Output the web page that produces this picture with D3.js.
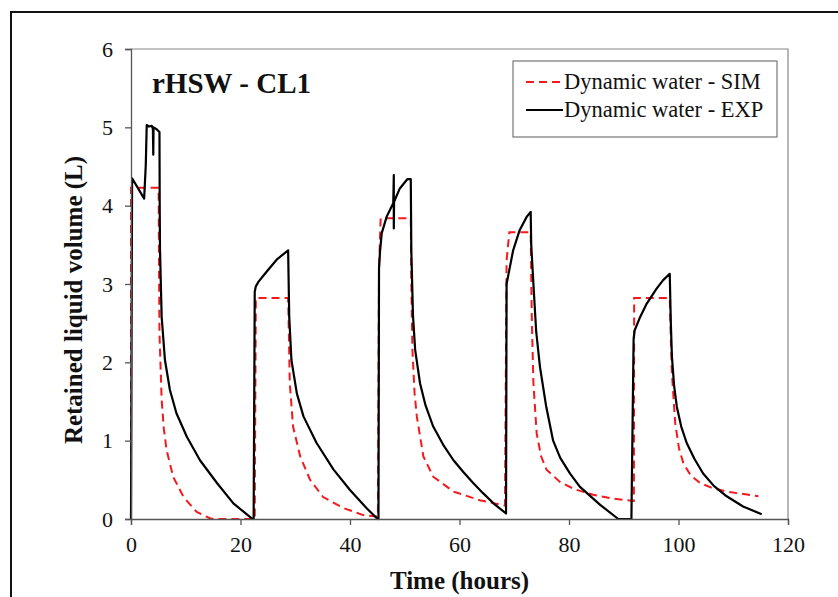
<!DOCTYPE html>
<html>
<head>
<meta charset="utf-8">
<script src="https://cdn.jsdelivr.net/npm/d3@7"></script>
<style>
  body { margin: 0; background: #fff; }
  svg text { font-family: "Liberation Serif", "Times New Roman", serif; fill: #111; }
</style>
</head>
<body>
<svg id="chart" width="838" height="597"></svg>
<script>
// Dynamic water - SIM (red dashed)
const simT = [0, 0, 5.05, 5.1, 5.2, 5.6, 6.0, 6.5, 7.7, 9.6, 12.0, 14.4, 15.0, 22.6,
  22.8, 28.7, 28.85, 29.0, 29.6, 30.9, 32.7, 35.1, 38.8, 42.4, 45.1,
  45.3, 45.6, 51.1, 51.2, 51.4, 51.8, 52.2, 53.4, 55.2, 58.9, 63.7, 68.3,
  68.6, 69.1, 73.0, 73.2, 73.5, 74.1, 74.9, 75.9, 78.4, 81.0, 84.4, 88.0, 91.85,
  91.9, 98.4, 98.6, 98.8, 99.4, 100.1, 100.9, 102.2, 103.9, 106.0, 108.8, 114.6];
const simV = [0, 4.23, 4.23, 3.43, 2.37, 1.52, 1.15, 0.88, 0.54, 0.28, 0.09, 0.01, 0, 0,
  2.82, 2.82, 2.3, 1.73, 1.18, 0.80, 0.50, 0.28, 0.14, 0.05, 0.03,
  3.2, 3.84, 3.84, 3.01, 2.16, 1.6, 1.31, 0.80, 0.54, 0.35, 0.24, 0.17,
  3.3, 3.66, 3.66, 2.58, 1.73, 1.09, 0.8, 0.63, 0.47, 0.38, 0.31, 0.26, 0.23,
  2.82, 2.82, 2.3, 1.86, 1.22, 0.9, 0.71, 0.56, 0.46, 0.4, 0.35, 0.29];

// Dynamic water - EXP (black solid)
const expT = [0, 0.2, 2.4, 2.7, 2.87, 3.3, 3.8, 4.0, 4.07, 4.12, 4.6, 5.2,
  5.25, 5.3, 5.6, 6.2, 7.1, 8.3, 10.2, 12.6, 15.7, 18.7, 22.0, 22.4,
  22.6, 22.8, 23.3, 24.8, 26.6, 28.7, 28.9, 29.3, 30.3, 31.5, 33.9, 37.0, 40.0, 43.0, 44.9, 45.2,
  45.3, 45.5, 45.8, 46.7, 47.6, 47.9, 48.0, 48.0, 48.05, 49.1, 50.5, 51.1,
  51.2, 51.5, 51.9, 52.8, 53.8, 55.2, 57.0, 58.9, 60.7, 62.5, 64.3, 66.2, 68.5,
  68.6, 69.1, 69.8, 71.0, 72.3, 73.0, 73.1, 73.5, 74.0, 74.7, 75.8, 77.1, 78.4, 80.2, 82.0, 85.7, 89.0, 91.4,
  91.8, 92.0, 93.0, 94.2, 96.0, 97.2, 98.4, 98.6, 98.8, 99.2, 99.7, 100.5, 101.5, 102.9, 104.5, 106.5, 108.8, 111.8, 115.2];
const expV = [0, 4.35, 4.09, 4.52, 5.03, 5.01, 5.02, 4.98, 4.65, 5.0, 4.98, 4.94,
  3.9, 3.43, 2.58, 2.03, 1.65, 1.35, 1.05, 0.75, 0.46, 0.20, 0.01, 0,
  2.9, 2.97, 3.03, 3.16, 3.31, 3.43, 2.58, 2.03, 1.60, 1.31, 0.97, 0.63, 0.37, 0.14, 0.01, 0,
  3.2, 3.43, 3.65, 3.86, 3.99, 4.03, 4.39, 3.71, 4.05, 4.22, 4.34, 4.34,
  3.43, 2.6, 2.16, 1.73, 1.45, 1.18, 0.95, 0.75, 0.6, 0.46, 0.33, 0.2, 0.07,
  3.0, 3.18, 3.43, 3.69, 3.86, 3.92, 3.5, 3.0, 2.4, 1.94, 1.45, 1.0, 0.78, 0.58, 0.41, 0.18, 0, 0,
  2.3, 2.41, 2.58, 2.75, 2.94, 3.05, 3.13, 2.5, 2.07, 1.7, 1.43, 1.18, 0.97, 0.77, 0.58, 0.42, 0.29, 0.16, 0.06];

const xTicks = [0, 20, 40, 60, 80, 100, 120];
const yTicks = [0, 1, 2, 3, 4, 5, 6];

const svg = d3.select('#chart');
const width = 838, height = 597;
const margin = { top: 49, right: 50, bottom: 78, left: 131 };

const x = d3.scaleLinear().domain([0, 120]).range([margin.left, width - margin.right]);
const y = d3.scaleLinear().domain([0, 6]).range([height - margin.bottom, margin.top]);

// outer figure frame (runs off the right and bottom edges)
svg.append('rect')
  .attr('x', 11).attr('y', 12)
  .attr('width', 900).attr('height', 700)
  .attr('fill', 'none').attr('stroke', '#111').attr('stroke-width', 2);

// plot area frame (top and right)
svg.append('path')
  .attr('d', `M${x(0)},${y(6)}H${x(120)}V${y(0)}`)
  .attr('fill', 'none').attr('stroke', '#888').attr('stroke-width', 1.2);

const line = d3.line().x(d => x(d[0])).y(d => y(d[1]));

svg.append('path')
  .datum(simT.map((t, i) => [t, simV[i]]))
  .attr('d', line)
  .attr('fill', 'none')
  .attr('stroke', '#f5181c')
  .attr('stroke-width', 2)
  .attr('stroke-dasharray', '8,5');

svg.append('path')
  .datum(expT.map((t, i) => [t, expV[i]]))
  .attr('d', line)
  .attr('fill', 'none')
  .attr('stroke', '#000')
  .attr('stroke-width', 2.2)
  .attr('stroke-linejoin', 'round');

// axes
const xAxis = svg.append('g')
  .attr('transform', `translate(0,${y(0)})`)
  .call(d3.axisBottom(x).tickValues(xTicks).tickSize(6).tickPadding(11));
const yAxis = svg.append('g')
  .attr('transform', `translate(${x(0)},0)`)
  .call(d3.axisLeft(y).tickValues(yTicks).tickFormat(d3.format('d')).tickSize(6).tickPadding(12));

[xAxis, yAxis].forEach(g => {
  g.attr('font-family', null).attr('font-size', null);
  g.select('.domain').attr('stroke', '#555').attr('stroke-width', 1.3);
  g.selectAll('.tick line').attr('stroke', '#555').attr('stroke-width', 1.3);
  g.selectAll('.tick text')
    .attr('font-family', 'Liberation Serif')
    .style('font-family', 'Liberation Serif, serif')
    .style('font-size', '22px')
    .style('fill', '#111');
});

// axis titles
svg.append('text')
  .attr('x', (x(0) + x(120)) / 2)
  .attr('y', 589)
  .attr('text-anchor', 'middle')
  .attr('font-size', 25)
  .attr('font-weight', 'bold')
  .text('Time (hours)');

svg.append('text')
  .attr('transform', `translate(82,${(y(0) + y(6)) / 2 + 16}) rotate(-90)`)
  .attr('text-anchor', 'middle')
  .attr('font-size', 25)
  .attr('font-weight', 'bold')
  .text('Retained liquid volume (L)');

// panel title
svg.append('text')
  .attr('x', 152).attr('y', 93)
  .attr('font-size', 29)
  .attr('font-weight', 'bold')
  .text('rHSW - CL1');

// legend
const legend = svg.append('g');
legend.append('rect')
  .attr('x', 513).attr('y', 61)
  .attr('width', 264).attr('height', 76)
  .attr('fill', '#fff').attr('stroke', '#777').attr('stroke-width', 1.2);

const legendItems = [
  { label: 'Dynamic water - SIM', color: '#f5181c', dash: '8,5' },
  { label: 'Dynamic water - EXP', color: '#000', dash: null }
];
legendItems.forEach((d, i) => {
  const ly = 82 + i * 28;
  legend.append('line')
    .attr('x1', 526).attr('x2', 563)
    .attr('y1', ly).attr('y2', ly)
    .attr('stroke', d.color).attr('stroke-width', 2)
    .attr('stroke-dasharray', d.dash);
  legend.append('text')
    .attr('x', 564).attr('y', ly + 7)
    .attr('font-size', 22.5)
    .text(d.label);
});
</script>
</body>
</html>
